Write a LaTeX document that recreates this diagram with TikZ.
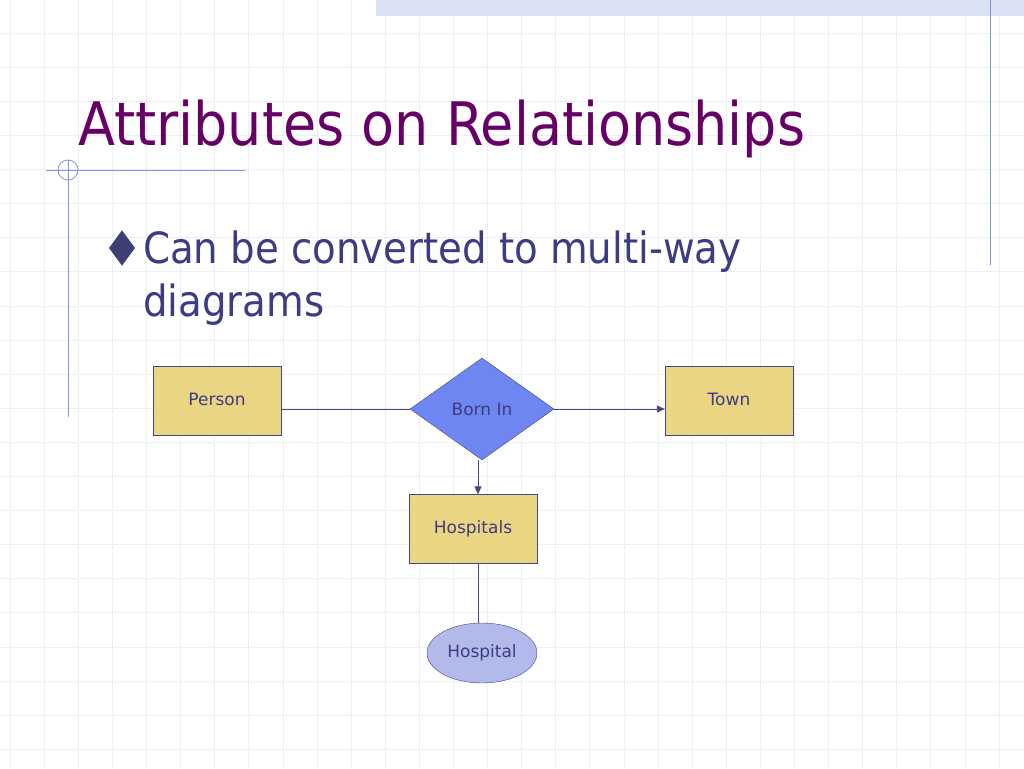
\documentclass[tikz,border=0pt]{standalone}
\usepackage{fontspec}
\setmainfont{DejaVu Sans}
\newfontfamily\condf{DejaVu Sans Condensed}
\usetikzlibrary{shapes.geometric,arrows.meta}
\definecolor{gridc}{RGB}{228,230,245}
\definecolor{bandc}{RGB}{220,226,245}
\definecolor{linec}{RGB}{130,150,220}
\definecolor{boxf}{RGB}{234,214,130}
\definecolor{edge}{RGB}{70,70,130}
\definecolor{dia}{RGB}{110,135,240}
\definecolor{ell}{RGB}{178,185,235}
\definecolor{txt}{RGB}{60,60,130}
\definecolor{title}{RGB}{102,0,102}
\tikzset{
  ent/.style={draw=edge, fill=boxf, minimum width=128pt, minimum height=69pt, inner sep=0, font=\fontsize{17}{17}\selectfont, text=txt},
  rel/.style={draw=edge, fill=dia, diamond, aspect=1.41, minimum width=144pt, minimum height=102pt, inner sep=0, font=\fontsize{17}{17}\selectfont, text=txt},
  attr/.style={draw=edge, fill=ell, ellipse, minimum width=110pt, minimum height=60pt, inner sep=0, font=\fontsize{17}{17}\selectfont, text=txt},
  conn/.style={draw=edge, line width=0.9pt},
  arr/.style={conn, -{Triangle[length=8pt,width=7pt]}}
}
\begin{document}
\begin{tikzpicture}[x=1pt,y=-1pt]
\useasboundingbox (0,0) rectangle (1024,768);
\fill[white] (0,0) rectangle (1024,768);
\foreach \i in {0,...,30} {\draw[gridc, densely dotted, line width=0.6pt] ({10+34.1*\i},0) -- ({10+34.1*\i},768);}
\foreach \j in {0,...,22} {\draw[gridc, densely dotted, line width=0.6pt] (0,{33+34.1*\j}) -- (1024,{33+34.1*\j});}
\fill[bandc] (376,0) rectangle (1024,16);
\draw[linec, line width=0.8pt] (68,160) -- (68,417);
\draw[linec, line width=0.8pt] (46,170) -- (245,170);
\draw[linec, line width=0.8pt] (68,170) circle (10);
\draw[linec, line width=0.8pt] (990,0) -- (990,265);
\node[anchor=base west, inner sep=0, text=title, font=\condf\fontsize{60}{60}\selectfont] (t) at (78,145) {Attributes on Relationships};
\node[diamond, fill=edge!90!black, draw=white, line width=1pt, minimum width=28pt, minimum height=38pt, inner sep=0] (b) at (122,248) {};
\node[anchor=base west, inner sep=0, text=txt, font=\condf\fontsize{43}{43}\selectfont] (s1) at (143,263) {Can be converted to multi-way};
\node[anchor=base west, inner sep=0, text=txt, font=\condf\fontsize{43}{43}\selectfont] (s2) at (143,316) {diagrams};
\node[ent] (p) at (217,401) {\raisebox{4pt}{Person}};
\node[rel] (r) at (482,409) {Born In};
\node[ent] (tw) at (729,401) {\raisebox{4pt}{Town}};
\node[ent] (h) at (473,529) {Hospitals};
\node[attr] (a) at (482,653) {Hospital};
\draw[conn] (p.east |- r.west) -- (r.west);
\draw[arr] (r.east) -- (tw.west |- r.east);
\draw[arr] (478,460) -- (h.north -| 478,0);
\draw[conn] (h.south -| 478,0) -- (a.north -| 478,0);
\end{tikzpicture}
\end{document}
